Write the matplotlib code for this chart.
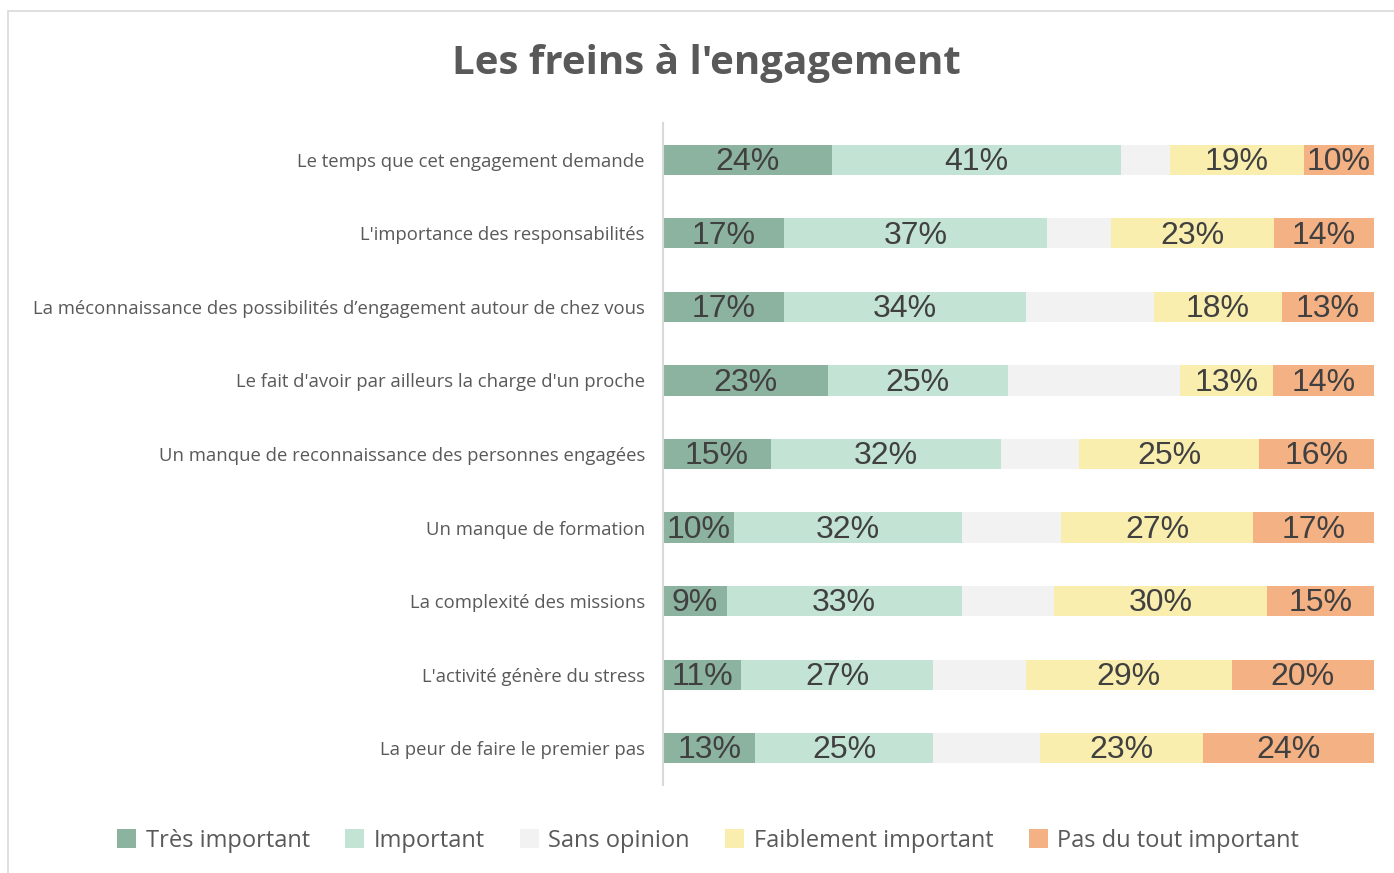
import matplotlib
matplotlib.use('Agg')
from matplotlib import pyplot as plt
from matplotlib import patches
import numpy as np
import pandas as pd

categories = [
    "Le temps que cet engagement demande",
    "L'importance des responsabilités",
    "La méconnaissance des possibilités d’engagement autour de chez vous",
    "Le fait d'avoir par ailleurs la charge d'un proche",
    "Un manque de reconnaissance des personnes engagées",
    "Un manque de formation",
    "La complexité des missions",
    "L'activité génère du stress",
    "La peur de faire le premier pas",
]
tres_important = [24, 17, 17, 23, 15, 10, 9, 11, 13]
important = [41, 37, 34, 25, 32, 32, 33, 27, 25]
sans_opinion = [7, 9, 18, 24, 11, 14, 13, 13, 15]
faiblement = [19, 23, 18, 13, 25, 27, 30, 29, 23]
pas_du_tout = [10, 14, 13, 14, 16, 17, 15, 20, 24]

series_names = ["Très important", "Important", "Sans opinion",
                "Faiblement important", "Pas du tout important"]
colors = ["#8CB3A0", "#C3E3D5", "#F2F2F2", "#FAEEAF", "#F4B183"]
show_label = [True, True, False, True, True]

df = pd.DataFrame({
    series_names[0]: tres_important,
    series_names[1]: important,
    series_names[2]: sans_opinion,
    series_names[3]: faiblement,
    series_names[4]: pas_du_tout,
}, index=categories)
shares = df.div(df.sum(axis=1), axis=0)

fig = plt.figure(figsize=(13.94, 8.73), dpi=100)
ax = fig.add_axes([0.4756, 0.1008, 0.51, 0.7583])

# chart frame
fig.add_artist(patches.Rectangle((8/1394, -0.05), 1.0, 1 - 11/873 + 0.05,
                                 transform=fig.transFigure, fill=False,
                                 edgecolor='#D9D9D9', linewidth=1.2))

y = np.arange(len(categories))
left = np.zeros(len(categories))
for name, col, lab in zip(series_names, colors, show_label):
    widths = shares[name].values
    ax.barh(y, widths, left=left, height=0.41, color=col, label=name)
    if lab:
        for yi, l, w, v in zip(y, left, widths, df[name].values):
            ax.text(l + w / 2, yi + 0.03, f"{v}%", ha='center', va='center',
                    fontsize=23, color='#404040', family='Liberation Sans')
    left += widths

ax.set_xlim(0, 1)
ax.set_ylim(len(categories) - 0.5, -0.5)
ax.set_yticks(y)
ax.set_yticklabels(categories, fontsize=13.3, color='#595959', family='Open Sans')
ax.tick_params(axis='y', length=0, pad=13)
ax.set_xticks([])
for s in ['top', 'right', 'bottom']:
    ax.spines[s].set_visible(False)
ax.spines['left'].set_color('#D9D9D9')
ax.spines['left'].set_linewidth(1.5)

fig.text(0.507, 0.927, "Les freins à l'engagement", ha='center', va='center',
         fontsize=29, fontweight='bold', color='#595959', family='Open Sans')

handles, labels = ax.get_legend_handles_labels()
fig.legend(handles, labels, loc='center', bbox_to_anchor=(0.508, 0.037), ncol=5,
           frameon=False, handlelength=0.8, handleheight=0.8, handletextpad=0.4,
           columnspacing=1.5, prop={'family': 'Open Sans', 'size': 17},
           labelcolor='#595959')

fig.savefig('out.png', dpi=100)
